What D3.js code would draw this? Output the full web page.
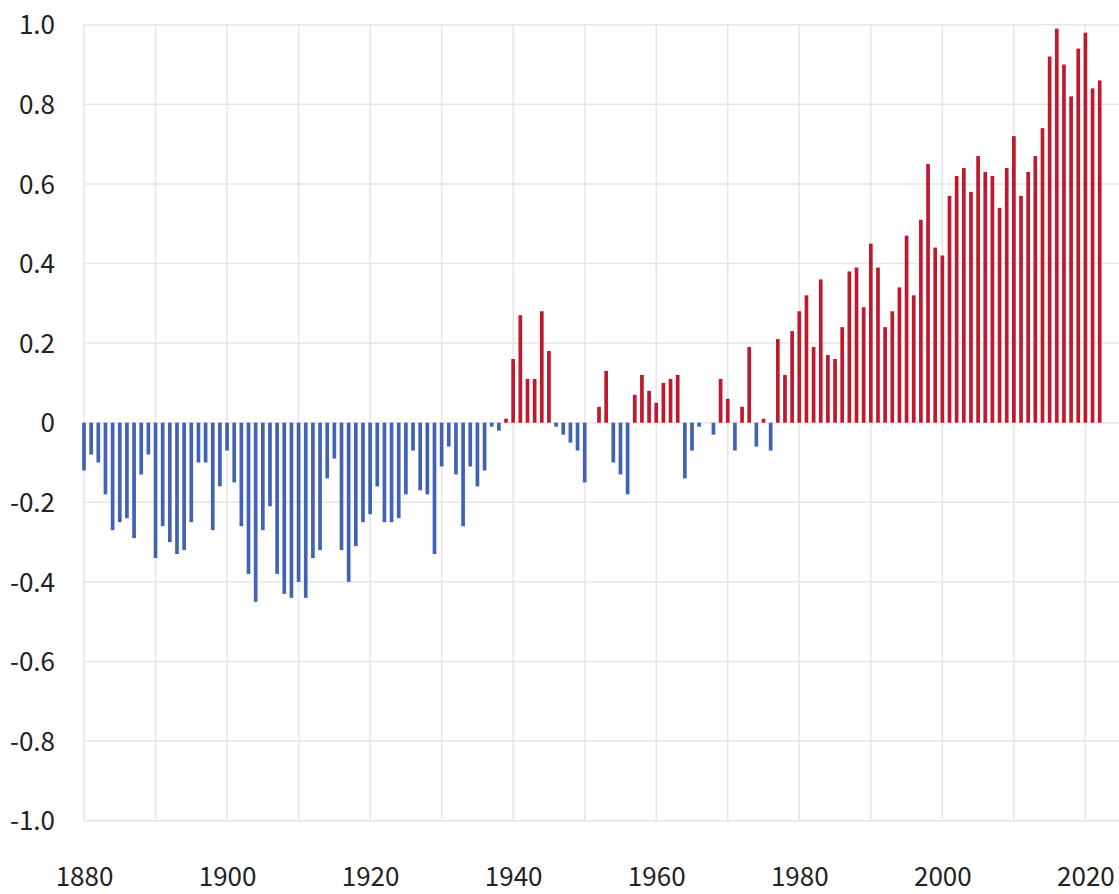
<!DOCTYPE html>
<html>
<head>
<meta charset="utf-8">
<script src="https://cdn.jsdelivr.net/npm/d3@7"></script>
<style>
  html, body { margin: 0; padding: 0; background: #ffffff; }
  svg { display: block; }
</style>
</head>
<body>
<svg id="chart" width="1119" height="894"></svg>
<script>
// ---- data ----
const startYear = 1880;
const endYear = 2022;
const years = d3.range(startYear, endYear + 1);
const anomalies = [
  -0.12,-0.08,-0.10,-0.18,-0.27,-0.25,-0.24,-0.29,-0.13,-0.08,
  -0.34,-0.26,-0.30,-0.33,-0.32,-0.25,-0.10,-0.10,-0.27,-0.16,
  -0.07,-0.15,-0.26,-0.38,-0.45,-0.27,-0.21,-0.38,-0.43,-0.44,
  -0.40,-0.44,-0.34,-0.32,-0.14,-0.09,-0.32,-0.40,-0.31,-0.25,
  -0.23,-0.16,-0.25,-0.25,-0.24,-0.18,-0.07,-0.17,-0.18,-0.33,
  -0.11,-0.06,-0.13,-0.26,-0.11,-0.16,-0.12,-0.01,-0.02,0.01,
  0.16,0.27,0.11,0.11,0.28,0.18,-0.01,-0.03,-0.05,-0.07,
  -0.15,0.00,0.04,0.13,-0.10,-0.13,-0.18,0.07,0.12,0.08,
  0.05,0.10,0.11,0.12,-0.14,-0.07,-0.01,0.00,-0.03,0.11,
  0.06,-0.07,0.04,0.19,-0.06,0.01,-0.07,0.21,0.12,0.23,
  0.28,0.32,0.19,0.36,0.17,0.16,0.24,0.38,0.39,0.29,
  0.45,0.39,0.24,0.28,0.34,0.47,0.32,0.51,0.65,0.44,
  0.42,0.57,0.62,0.64,0.58,0.67,0.63,0.62,0.54,0.64,
  0.72,0.57,0.63,0.67,0.74,0.92,0.99,0.90,0.82,0.94,
  0.98,0.84,0.86
];
const yTicks = [-1.0,-0.8,-0.6,-0.4,-0.2,0,0.2,0.4,0.6,0.8,1.0];
const yTickLabels = ["-1.0","-0.8","-0.6","-0.4","-0.2","0","0.2","0.4","0.6","0.8","1.0"];
const xGridYears = d3.range(1880, 2021, 10);
const xLabelYears = [1880,1900,1920,1940,1960,1980,2000,2020];

// ---- layout ----
const svg = d3.select("#chart");
const plotLeft = 84, plotRight = 1119, plotTop = 24.7, plotBottom = 820.7;
const x = d3.scaleLinear().domain([1880, 2020]).range([84, 1085.4]);
const y = d3.scaleLinear().domain([-1, 1]).range([plotBottom, plotTop]);
const barW = 3.7;
const font = "'Noto Sans CJK JP', 'Noto Sans', sans-serif";

// gridlines
const grid = svg.append("g");
grid.selectAll("line.h").data(yTicks).enter().append("line")
  .attr("x1", plotLeft).attr("x2", plotRight)
  .attr("y1", d => y(d)).attr("y2", d => y(d))
  .attr("stroke", "#e6e6e6").attr("stroke-width", 1.5);
grid.selectAll("line.v").data(xGridYears).enter().append("line")
  .attr("x1", d => x(d)).attr("x2", d => x(d))
  .attr("y1", plotTop).attr("y2", plotBottom)
  .attr("stroke", "#e6e6e6").attr("stroke-width", 1.5);

// bars
const data = years.map((yr, i) => ({ year: yr, value: anomalies[i] }));
svg.append("g").selectAll("rect").data(data.filter(d => d.value !== 0)).enter().append("rect")
  .attr("x", d => x(d.year) - barW / 2)
  .attr("width", barW)
  .attr("y", d => y(Math.max(0, d.value)))
  .attr("height", d => Math.abs(y(d.value) - y(0)))
  .attr("fill", d => d.value > 0 ? "#c0182c" : "#4263b3");

// y labels
const yAxis = d3.axisLeft(y).tickValues(yTicks)
  .tickFormat((d, i) => yTickLabels[i])
  .tickSize(0).tickPadding(0);
const gy = svg.append("g").attr("transform", "translate(55,0)").call(yAxis);
gy.select(".domain").remove();
gy.selectAll("text").attr("font-family", font).attr("font-size", 26)
  .attr("fill", "#222").attr("dy", "0.35em");

// x labels
const xAxis = d3.axisBottom(x).tickValues(xLabelYears).tickFormat(d3.format("d"))
  .tickSize(0).tickPadding(0);
const gx = svg.append("g").attr("transform", "translate(0,886)").call(xAxis);
gx.select(".domain").remove();
gx.selectAll("text").attr("font-family", font).attr("font-size", 26)
  .attr("fill", "#222").attr("dy", "0");
</script>
</body>
</html>
